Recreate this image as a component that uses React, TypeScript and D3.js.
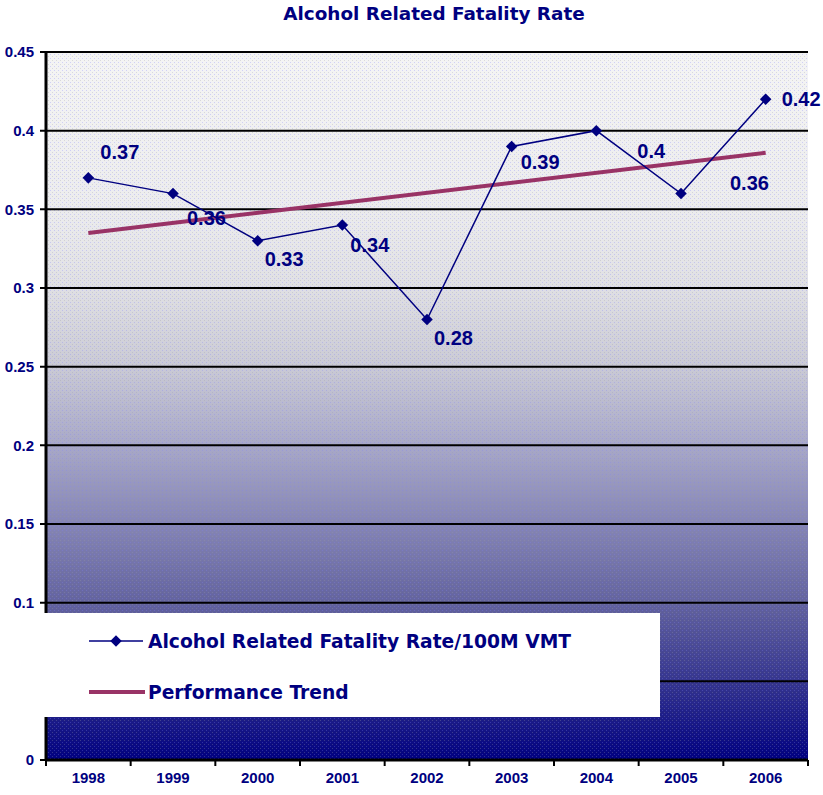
import React from 'react';
import * as d3 from 'd3';

const years = ['1998', '1999', '2000', '2001', '2002', '2003', '2004', '2005', '2006'];
const rates = [0.37, 0.36, 0.33, 0.34, 0.28, 0.39, 0.4, 0.36, 0.42];
const rateLabels = ['0.37', '0.36', '0.33', '0.34', '0.28', '0.39', '0.4', '0.36', '0.42'];
const trendYears = ['1998', '2006'];
const trendValues = [0.335, 0.386];
const yTicks = [0, 0.05, 0.1, 0.15, 0.2, 0.25, 0.3, 0.35, 0.4, 0.45];
const yTickLabels = ['0', '0.05', '0.1', '0.15', '0.2', '0.25', '0.3', '0.35', '0.4', '0.45'];

// label offsets from each point (px), as placed in the original
const labelOffsets: [number, number][] = [
  [12, -26], [14, 24], [7, 18], [8, 20], [7, 18], [9, 15], [41, 20], [49, -11], [16, 0],
];

const width = 823;
const height = 795;
const left = 46;
const right = 808;
const top = 52;
const bottom = 760;
const navy = '#000080';
const plum = '#993366';
const font = '"Liberation Sans", Arial, sans-serif';
const wide = '"DejaVu Sans", Verdana, sans-serif';

const App: React.FC = () => {
  const x = d3.scaleBand<string>().domain(years).range([left, right]);
  const y = d3.scaleLinear().domain([0, 0.45]).range([bottom, top]);
  const cx = (d: string) => (x(d) as number) + x.bandwidth() / 2;

  const line = d3
    .line<number>()
    .x((_, i) => cx(years[i]))
    .y(d => y(d));

  const trend = d3
    .line<number>()
    .x((_, i) => cx(trendYears[i]))
    .y(d => y(d));

  const diamond = d3.symbol().type(d3.symbolDiamond2).size(85)() as string;

  const bounds = years.map(d => x(d) as number).concat([right]);

  return (
    <svg
      width={width}
      height={height}
      style={{ position: 'absolute', left: 0, top: 0, background: '#fff' }}
    >
      <defs>
        <linearGradient id="bg" x1="0" y1="0" x2="0" y2="1">
          <stop offset="0%" stopColor="#f4f4f4" />
          <stop offset="22%" stopColor="#ececee" />
          <stop offset="33%" stopColor="#e0e0e4" />
          <stop offset="44%" stopColor="#cbcbd6" />
          <stop offset="55.6%" stopColor="#a8a8c8" />
          <stop offset="66.7%" stopColor="#8585b4" />
          <stop offset="77.8%" stopColor="#63639e" />
          <stop offset="89%" stopColor="#35358e" />
          <stop offset="100%" stopColor="#00007f" />
        </linearGradient>
        <pattern id="dots" width="4" height="4" patternUnits="userSpaceOnUse">
          <rect x="0" y="0" width="1" height="1" fill="#a0a0a0" opacity="0.3" />
          <rect x="2" y="2" width="1" height="1" fill="#8080ff" opacity="0.3" />
        </pattern>
      </defs>

      <text
        x={434}
        y={20}
        textAnchor="middle"
        fontFamily={wide}
        fontWeight="bold"
        fontSize={18.4}
        fill={navy}
      >
        Alcohol Related Fatality Rate
      </text>

      <rect x={left} y={top} width={right - left} height={bottom - top} fill="url(#bg)" />
      <rect x={left} y={top} width={right - left} height={bottom - top} fill="url(#dots)" />

      {/* gridlines */}
      {yTicks.map(t => (
        <line key={t} x1={left - 6} x2={right} y1={y(t)} y2={y(t)} stroke="#000" strokeWidth={2} />
      ))}

      {/* axes */}
      <line x1={left} x2={left} y1={top} y2={bottom + 1} stroke="#000" strokeWidth={3} />
      <line x1={left} x2={right} y1={bottom} y2={bottom} stroke="#000" strokeWidth={3} />
      {bounds.map((b, i) => (
        <line key={i} x1={b} x2={b} y1={bottom} y2={bottom + 6} stroke="#000" strokeWidth={2} />
      ))}

      {yTicks.map((t, i) => (
        <text
          key={t}
          x={34}
          y={y(t)}
          dy="0.36em"
          textAnchor="end"
          fontFamily={font}
          fontWeight="bold"
          fontSize={15}
          fill={navy}
        >
          {yTickLabels[i]}
        </text>
      ))}

      {years.map(d => (
        <text
          key={d}
          x={cx(d)}
          y={778}
          dy="0.36em"
          textAnchor="middle"
          fontFamily={font}
          fontWeight="bold"
          fontSize={15}
          fill={navy}
        >
          {d}
        </text>
      ))}

      {/* trend */}
      <path d={trend(trendValues) as string} fill="none" stroke={plum} strokeWidth={4} />

      {/* series */}
      <path d={line(rates) as string} fill="none" stroke={navy} strokeWidth={1.5} />
      {rates.map((r, i) => (
        <path key={i} d={diamond} transform={`translate(${cx(years[i])},${y(r)})`} fill={navy} />
      ))}
      {rates.map((r, i) => (
        <text
          key={i}
          x={cx(years[i]) + labelOffsets[i][0]}
          y={y(r) + labelOffsets[i][1]}
          dy="0.36em"
          fontFamily={font}
          fontWeight="bold"
          fontSize={20}
          fill={navy}
        >
          {rateLabels[i]}
        </text>
      ))}

      {/* legend */}
      <rect x={0} y={613} width={660} height={104} fill="#fff" />
      <line x1={89} x2={143} y1={641} y2={641} stroke={navy} strokeWidth={1.5} />
      <path d={diamond} transform="translate(116,641)" fill={navy} />
      <text x={148} y={641} dy="0.36em" fontFamily={wide} fontWeight="bold" fontSize={18.7} fill={navy}>
        Alcohol Related Fatality Rate/100M VMT
      </text>
      <line x1={89} x2={145} y1={692} y2={692} stroke={plum} strokeWidth={4} />
      <text x={148} y={692} dy="0.36em" fontFamily={wide} fontWeight="bold" fontSize={18.7} fill={navy}>
        Performance Trend
      </text>
    </svg>
  );
};

export default App;
